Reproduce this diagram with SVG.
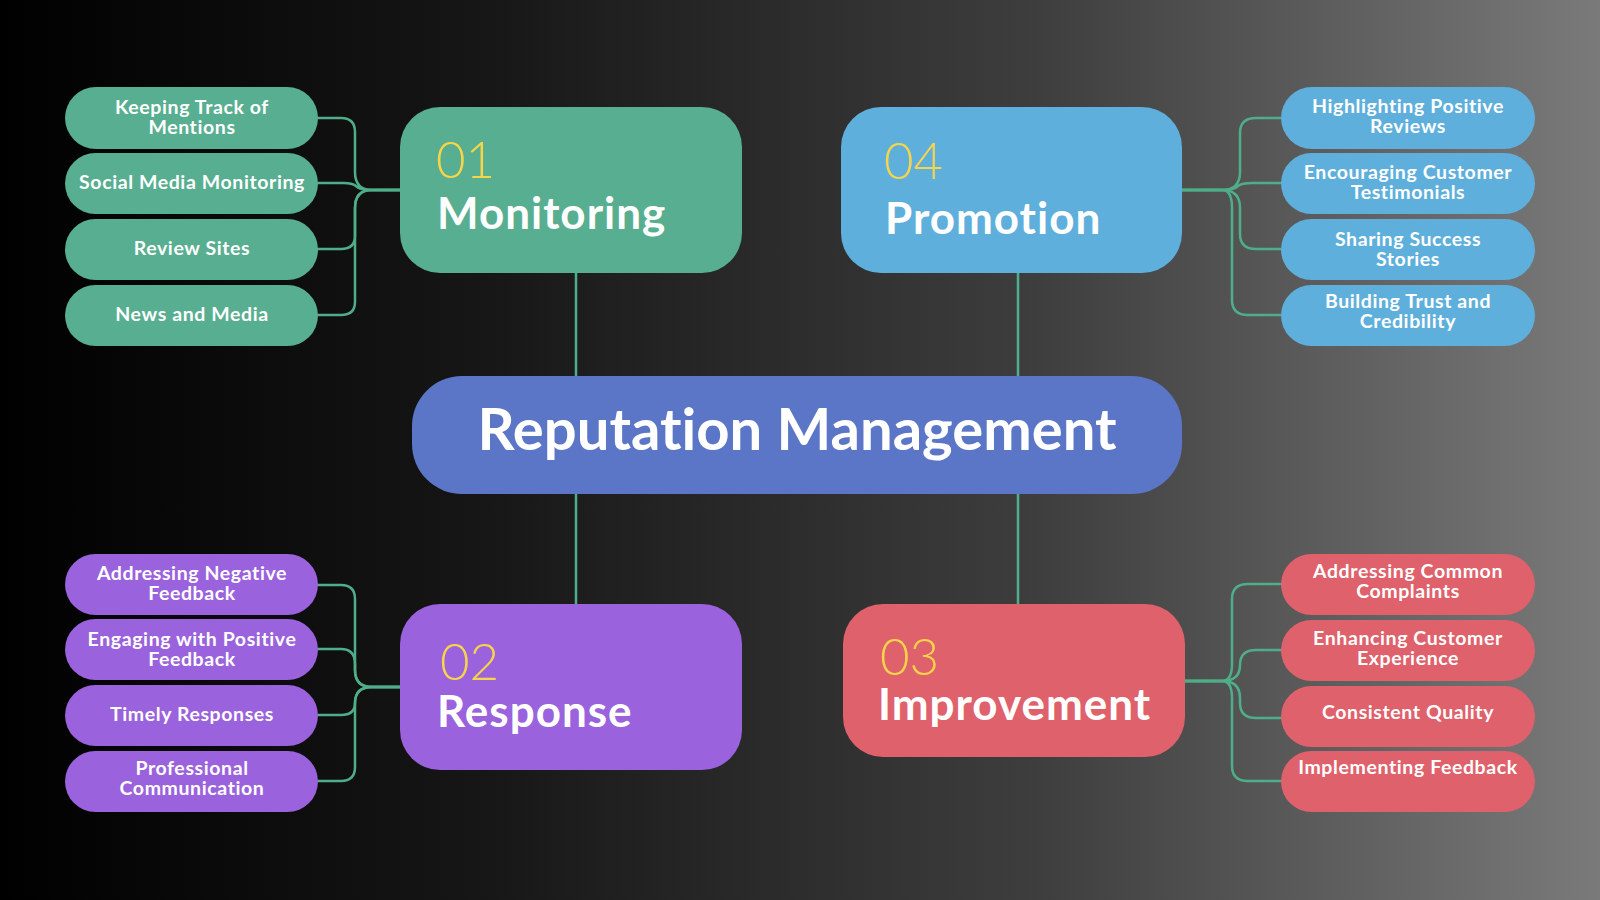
<svg xmlns="http://www.w3.org/2000/svg" width="1600" height="900" viewBox="0 0 1600 900">
<defs>
<linearGradient id="bg" x1="0" y1="0" x2="1" y2="0">
<stop offset="0" stop-color="#000000"/>
<stop offset="0.3" stop-color="#161616"/>
<stop offset="0.65" stop-color="#3e3e3e"/>
<stop offset="1" stop-color="#7a7a7a"/>
</linearGradient>
<style>
text{font-variant-ligatures:none}
.conn{fill:none;stroke:#4fae8a;stroke-width:2.5;stroke-linecap:round;stroke-linejoin:round}
.pill text{font-family:Lato,"Liberation Sans",sans-serif;font-weight:700;font-size:19.5px;letter-spacing:0.6px;fill:#ffffff;text-anchor:middle}
.num{font-family:Lato,"Open Sans","Liberation Sans",sans-serif;font-weight:300;font-size:51px;fill:#f7d54a}
.head{font-family:Lato,"Liberation Sans",sans-serif;font-weight:700;font-size:44px;letter-spacing:1px;fill:#ffffff}
.green{fill:#58ae90}.blue{fill:#5fafdc}.purple{fill:#9a62dc}.red{fill:#df616b}
</style>
</defs>
<rect x="0" y="0" width="1600" height="900" fill="url(#bg)"/>

<g id="connectors">
<line class="conn" x1="576" y1="272" x2="576" y2="376"/>
<line class="conn" x1="1018" y1="272" x2="1018" y2="376"/>
<line class="conn" x1="576" y1="494" x2="576" y2="605"/>
<line class="conn" x1="1018" y1="494" x2="1018" y2="605"/>
<path class="conn" d="M400 190 H372 Q355 190 355 172 V132 Q355 118 341 118 H318"/>
<path class="conn" d="M400 190 H372 Q360 190 356 186 Q352 183 344 183 H318"/>
<path class="conn" d="M400 190 H372 Q355 190 355 208 V236 Q355 249 341 249 H318"/>
<path class="conn" d="M400 190 H372 Q355 190 355 208 V302 Q355 315 341 315 H318"/>
<path class="conn" d="M400 687 H372 Q355 687 355 670 V599 Q355 585 341 585 H318"/>
<path class="conn" d="M400 687 H372 Q355 687 355 670 V664 Q355 649 341 649 H318"/>
<path class="conn" d="M400 687 H372 Q355 687 355 703 Q355 715 341 715 H318"/>
<path class="conn" d="M400 687 H372 Q355 687 355 703 V767 Q355 781 341 781 H318"/>
<path class="conn" d="M1182 190 H1222 Q1240 190 1240 172 V133 Q1240 118 1256 118 H1281"/>
<path class="conn" d="M1182 190 H1222 Q1234 190 1238 186 Q1242 183 1252 183 H1281"/>
<path class="conn" d="M1182 190 H1222 Q1240 190 1240 208 V234 Q1240 249 1256 249 H1281"/>
<path class="conn" d="M1182 190 H1222 Q1232 190 1232 208 V300 Q1232 315 1248 315 H1281"/>
<path class="conn" d="M1185 681 H1222 Q1232 681 1232 664 V599 Q1232 584 1248 584 H1281"/>
<path class="conn" d="M1185 681 H1222 Q1240 681 1240 665 Q1240 650 1256 650 H1281"/>
<path class="conn" d="M1185 681 H1222 Q1240 681 1240 698 V703 Q1240 718 1256 718 H1290"/>
<path class="conn" d="M1185 681 H1222 Q1232 681 1232 698 V766 Q1232 781 1248 781 H1281"/>
</g>

<g id="center">
<rect x="412" y="376" width="770" height="118" rx="50" fill="#5b76c6"/>
<text x="797" y="450" font-family="Lato,'Liberation Sans',sans-serif" font-weight="700" font-size="58" fill="#ffffff" text-anchor="middle">Reputation Management</text>
</g>

<g id="monitoring">
<rect class="green" x="400" y="107" width="342" height="166" rx="40"/>
<text class="num" x="436" y="178">01</text>
<text class="head" x="437" y="229">Monitoring</text>
</g>
<g id="promotion">
<rect class="blue" x="841" y="107" width="341" height="166" rx="40"/>
<text class="num" x="884" y="179">04</text>
<text class="head" x="885" y="234">Promotion</text>
</g>
<g id="response">
<rect class="purple" x="400" y="604" width="342" height="166" rx="40"/>
<text class="num" x="440" y="680">02</text>
<text class="head" x="437" y="727">Response</text>
</g>
<g id="improvement">
<rect class="red" x="843" y="604" width="342" height="153" rx="40"/>
<text class="num" x="880" y="675">03</text>
<text class="head" x="878" y="720">Improvement</text>
</g>

<g id="m1" class="pill"><rect class="green" x="65" y="87" width="253" height="62" rx="31"/><text x="192" y="114">Keeping Track of</text><text x="192" y="134">Mentions</text></g>
<g id="m2" class="pill"><rect class="green" x="65" y="153" width="253" height="61" rx="30.5"/><text x="192" y="189">Social Media Monitoring</text></g>
<g id="m3" class="pill"><rect class="green" x="65" y="219" width="253" height="61" rx="30.5"/><text x="192" y="255">Review Sites</text></g>
<g id="m4" class="pill"><rect class="green" x="65" y="285" width="253" height="61" rx="30.5"/><text x="192" y="321">News and Media</text></g>

<g id="p1" class="pill"><rect class="blue" x="1281" y="87" width="254" height="62" rx="31"/><text x="1408" y="113">Highlighting Positive</text><text x="1408" y="133">Reviews</text></g>
<g id="p2" class="pill"><rect class="blue" x="1281" y="153" width="254" height="61" rx="30.5"/><text x="1408" y="179">Encouraging Customer</text><text x="1408" y="199">Testimonials</text></g>
<g id="p3" class="pill"><rect class="blue" x="1281" y="219" width="254" height="61" rx="30.5"/><text x="1408" y="246">Sharing Success</text><text x="1408" y="266">Stories</text></g>
<g id="p4" class="pill"><rect class="blue" x="1281" y="285" width="254" height="61" rx="30.5"/><text x="1408" y="308">Building Trust and</text><text x="1408" y="328">Credibility</text></g>

<g id="r1" class="pill"><rect class="purple" x="65" y="554" width="253" height="61" rx="30.5"/><text x="192" y="580">Addressing Negative</text><text x="192" y="600">Feedback</text></g>
<g id="r2" class="pill"><rect class="purple" x="65" y="619" width="253" height="61" rx="30.5"/><text x="192" y="646">Engaging with Positive</text><text x="192" y="666">Feedback</text></g>
<g id="r3" class="pill"><rect class="purple" x="65" y="685" width="253" height="61" rx="30.5"/><text x="192" y="721">Timely Responses</text></g>
<g id="r4" class="pill"><rect class="purple" x="65" y="751" width="253" height="61" rx="30.5"/><text x="192" y="775">Professional</text><text x="192" y="795">Communication</text></g>

<g id="i1" class="pill"><rect class="red" x="1281" y="554" width="254" height="61" rx="30.5"/><text x="1408" y="578">Addressing Common</text><text x="1408" y="598">Complaints</text></g>
<g id="i2" class="pill"><rect class="red" x="1281" y="620" width="254" height="61" rx="30.5"/><text x="1408" y="645">Enhancing Customer</text><text x="1408" y="665">Experience</text></g>
<g id="i3" class="pill"><rect class="red" x="1281" y="686" width="254" height="61" rx="30.5"/><text x="1408" y="719">Consistent Quality</text></g>
<g id="i4" class="pill"><rect class="red" x="1281" y="751" width="254" height="61" rx="30.5"/><text x="1408" y="774">Implementing Feedback</text></g>
</svg>
